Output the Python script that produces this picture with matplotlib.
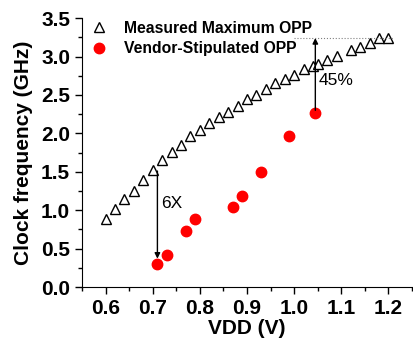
import numpy as np
import matplotlib.pyplot as plt
from matplotlib.ticker import MultipleLocator

plt.rcParams['font.family'] = ['Liberation Sans', 'DejaVu Sans']

# measured maximum OPP
vdd_max = [0.60, 0.62, 0.64, 0.66, 0.68, 0.70, 0.72, 0.74, 0.76, 0.78,
           0.80, 0.82, 0.84, 0.86, 0.88, 0.90, 0.92, 0.94, 0.96, 0.98,
           1.00, 1.02, 1.04, 1.05, 1.07, 1.09, 1.12, 1.14, 1.16, 1.18, 1.20]
freq_max = [0.88, 1.02, 1.14, 1.25, 1.39, 1.53, 1.65, 1.76, 1.85, 1.96,
            2.04, 2.13, 2.21, 2.28, 2.36, 2.45, 2.50, 2.58, 2.65, 2.71,
            2.76, 2.84, 2.88, 2.90, 2.95, 3.01, 3.08, 3.12, 3.17, 3.24, 3.24]

# vendor-stipulated OPP
vdd_vendor = [0.71, 0.73, 0.77, 0.79, 0.87, 0.89, 0.93, 0.99, 1.045]
freq_vendor = [0.30, 0.42, 0.73, 0.88, 1.04, 1.19, 1.50, 1.96, 2.27]

fig = plt.figure(figsize=(4.13, 3.41), dpi=100)
ax = fig.add_axes([0.1985, 0.158, 0.799, 0.789])

ax.plot(vdd_max, freq_max, linestyle='none', marker='^', markersize=7.5,
        markerfacecolor='white', markeredgecolor='black', markeredgewidth=1,
        label='Measured Maximum OPP')
ax.plot(vdd_vendor, freq_vendor, linestyle='none', marker='o', markersize=7.5,
        markerfacecolor='#ff0000', markeredgecolor='#ff0000',
        label='Vendor-Stipulated OPP')

# 6X arrow
ax.annotate('', xy=(0.71, 0.37), xytext=(0.71, 1.51),
            arrowprops=dict(arrowstyle='-|>', color='black', lw=1,
                            mutation_scale=8, shrinkA=0, shrinkB=0))
ax.text(0.718, 1.09, '6X', fontsize=12.5, va='center', ha='left')

# 45% arrow
ax.plot([1.0, 1.21], [3.24, 3.24], linestyle=':', color='gray', lw=0.8)
ax.annotate('', xy=(1.045, 3.24), xytext=(1.045, 2.30),
            arrowprops=dict(arrowstyle='-|>', color='black', lw=1,
                            mutation_scale=8, shrinkA=0, shrinkB=0))
ax.text(1.052, 2.69, '45%', fontsize=12.5, va='center', ha='left')

ax.set_xlim(0.55, 1.25)
ax.set_ylim(0, 3.5)
ax.xaxis.set_major_locator(MultipleLocator(0.1))
ax.xaxis.set_minor_locator(MultipleLocator(0.05))
ax.yaxis.set_major_locator(MultipleLocator(0.5))
ax.yaxis.set_minor_locator(MultipleLocator(0.25))
ax.spines['top'].set_visible(False)
ax.spines['right'].set_visible(False)
ax.tick_params(which='major', direction='out', length=5, width=1)
ax.tick_params(which='minor', direction='out', length=3, width=1)
for lab in ax.get_xticklabels() + ax.get_yticklabels():
    lab.set_fontsize(15)
    lab.set_fontweight('bold')

ax.set_xlabel('VDD (V)', fontsize=15, fontweight='bold', labelpad=1)
ax.set_ylabel('Clock frequency (GHz)', fontsize=15, fontweight='bold', labelpad=6)

leg = ax.legend(loc='upper left', frameon=False, prop={'weight': 'bold', 'size': 11.3},
                handletextpad=1.0, borderaxespad=0.1, bbox_to_anchor=(0.0, 1.02),
                labelspacing=0.35, handlelength=1.2)

fig.savefig('out.png', dpi=100)
